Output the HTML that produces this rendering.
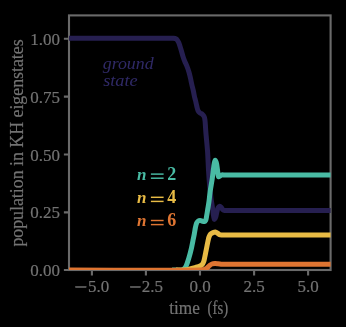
<!DOCTYPE html>
<html><head><meta charset="utf-8"><style>
html,body{margin:0;padding:0;background:#000;}
svg{display:block;will-change:transform;}
text{font-family:"Liberation Serif",serif;}
</style></head><body>
<svg width="346" height="327" viewBox="0 0 346 327">
<rect x="0" y="0" width="346" height="327" fill="#000"/>
<defs><clipPath id="ax"><rect x="69.0" y="15.4" width="261.60" height="254.60"/></clipPath></defs>
<g stroke="#6a6a6a" fill="none" stroke-width="2.1">
<rect x="69.0" y="15.4" width="261.60" height="254.60" stroke-linejoin="miter"/>
<path d="M63.90,38.70H69.00 M63.90,96.60H69.00 M63.90,154.50H69.00 M63.90,212.40H69.00 M63.90,270.00H69.00"/>
<path d="M91.90,270.00V275.60 M145.90,270.00V275.60 M200.00,270.00V275.60 M254.10,270.00V275.60 M308.10,270.00V275.60"/>
</g>
<g clip-path="url(#ax)" fill="none" stroke-width="5.0" stroke-linejoin="round" stroke-linecap="butt">
<path d="M60.00,38.20 C96.83,38.20 160.08,38.20 170.50,38.20 C172.22,38.20 172.57,38.08 173.50,38.20 C174.32,38.31 175.14,38.45 175.80,38.80 C176.43,39.13 176.94,39.62 177.40,40.20 C177.92,40.86 178.31,41.71 178.70,42.60 C179.15,43.62 179.50,44.78 179.90,46.00 C180.36,47.39 180.82,48.89 181.30,50.50 C181.85,52.35 182.39,54.60 183.00,56.50 C183.56,58.25 184.14,59.88 184.80,61.50 C185.44,63.08 186.24,64.44 186.90,66.10 C187.65,67.97 188.40,70.15 189.00,72.20 C189.59,74.22 190.03,76.25 190.50,78.30 C190.97,80.35 191.33,82.45 191.80,84.50 C192.27,86.55 192.85,88.56 193.30,90.60 C193.75,92.63 194.09,94.91 194.50,96.70 C194.83,98.12 195.19,99.26 195.50,100.50 C195.79,101.69 196.02,102.81 196.30,104.00 C196.59,105.24 196.88,106.61 197.20,107.80 C197.49,108.86 197.63,109.93 198.10,110.80 C198.55,111.62 199.20,112.31 199.90,112.90 C200.62,113.51 201.69,113.76 202.40,114.40 C203.12,115.05 203.77,115.86 204.20,116.80 C204.68,117.86 204.80,119.17 205.00,120.50 C205.23,122.03 205.27,123.76 205.40,125.50 C205.54,127.41 205.60,128.91 205.80,131.50 C206.17,136.30 207.14,145.38 207.60,152.00 C208.03,158.19 208.15,164.28 208.50,170.00 C208.82,175.23 209.16,180.18 209.60,185.00 C210.01,189.49 210.45,193.76 211.00,198.00 C211.53,202.09 212.33,206.68 212.80,210.00 C213.13,212.34 213.29,214.29 213.60,216.00 C213.84,217.30 214.00,219.34 214.40,219.40 C214.74,219.45 215.33,218.13 215.70,217.20 C216.24,215.83 216.45,213.48 216.90,211.80 C217.30,210.30 217.58,208.55 218.20,207.60 C218.62,206.96 219.18,206.34 219.70,206.30 C220.19,206.26 220.75,206.76 221.20,207.20 C221.75,207.73 222.05,208.85 222.60,209.40 C223.07,209.87 223.63,210.23 224.20,210.40 C224.76,210.57 225.32,210.44 226.00,210.45 C226.87,210.46 227.28,210.45 229.00,210.45 C239.45,210.45 303.00,210.45 340.00,210.45" stroke="#261f50"/>
<path d="M172.00,270.10 C173.67,270.10 175.55,270.10 177.00,270.10 C178.13,270.10 179.00,270.20 180.00,270.10 C181.00,270.00 182.17,269.90 183.00,269.50 C183.73,269.15 184.27,268.62 184.80,268.00 C185.39,267.31 185.79,266.58 186.30,265.50 C187.12,263.75 188.01,260.91 188.80,258.30 C189.72,255.28 190.69,251.47 191.40,248.40 C192.01,245.76 192.41,243.43 192.90,241.00 C193.38,238.63 193.88,236.28 194.30,234.00 C194.70,231.82 194.97,229.52 195.40,227.60 C195.76,225.99 196.04,224.37 196.60,223.20 C197.04,222.29 197.54,221.42 198.20,221.00 C198.77,220.63 199.52,220.58 200.20,220.60 C200.92,220.62 201.69,221.03 202.40,221.20 C203.05,221.36 203.75,221.76 204.30,221.60 C204.85,221.44 205.33,220.88 205.70,220.20 C206.27,219.14 206.38,217.17 206.70,215.50 C207.06,213.63 207.35,211.60 207.70,209.50 C208.08,207.19 208.53,204.85 208.90,202.20 C209.34,199.04 209.59,195.44 210.10,191.80 C210.67,187.75 211.64,182.86 212.20,179.00 C212.66,175.83 212.93,173.07 213.30,170.30 C213.63,167.76 213.87,164.83 214.30,163.00 C214.56,161.87 214.85,160.32 215.20,160.30 C215.52,160.28 215.98,161.52 216.30,162.50 C216.86,164.23 217.11,167.56 217.50,170.00 C217.87,172.32 217.83,176.43 218.60,176.80 C218.97,176.98 219.49,176.28 220.00,176.00 C220.60,175.67 221.24,175.14 222.00,174.95 C222.88,174.73 223.28,174.95 225.00,174.95 C235.66,174.95 301.67,174.95 340.00,174.95" stroke="#49bba4"/>
<path d="M176.00,270.10 C178.33,270.10 181.16,270.19 183.00,270.10 C184.21,270.04 184.93,269.97 186.00,269.80 C187.24,269.60 188.60,269.24 190.00,268.90 C191.58,268.52 193.34,268.08 195.00,267.60 C196.67,267.12 198.69,266.67 200.00,266.00 C200.96,265.51 201.68,265.04 202.30,264.30 C202.97,263.50 203.39,262.44 203.80,261.30 C204.30,259.91 204.54,258.16 204.90,256.50 C205.28,254.73 205.64,252.79 206.00,251.00 C206.34,249.29 206.67,247.67 207.00,246.00 C207.33,244.33 207.65,242.57 208.00,241.00 C208.32,239.59 208.53,238.21 209.00,237.00 C209.42,235.90 209.88,234.75 210.60,234.00 C211.25,233.33 212.14,232.92 213.00,232.60 C213.87,232.28 214.97,231.93 215.80,232.10 C216.56,232.25 217.17,232.95 217.80,233.40 C218.40,233.82 218.84,234.44 219.50,234.70 C220.22,234.98 221.13,234.91 222.00,234.95 C222.95,235.00 223.28,234.95 225.00,234.95 C235.66,234.95 301.67,234.95 340.00,234.95" stroke="#e8bb45"/>
<path d="M60.00,270.10 C106.33,270.10 187.13,270.69 199.00,270.10 C200.75,270.01 201.05,269.94 202.00,269.80 C202.87,269.67 203.69,269.59 204.50,269.30 C205.36,269.00 206.21,268.57 207.00,268.00 C207.88,267.37 208.63,266.28 209.50,265.60 C210.30,264.97 211.09,264.33 212.00,264.00 C212.92,263.66 214.00,263.63 215.00,263.60 C216.00,263.57 216.93,263.70 218.00,263.80 C219.24,263.92 220.76,264.21 222.00,264.30 C223.07,264.38 223.28,264.34 225.00,264.35 C235.66,264.44 301.67,264.35 340.00,264.35" stroke="#df7532"/>
</g>
<g fill="#737373" font-size="17" stroke="#737373" stroke-width="0.2">
<text x="60.1" y="44.70" text-anchor="end" font-size="17.5" textLength="29.75" lengthAdjust="spacingAndGlyphs">1.00</text>
<text x="60.1" y="102.60" text-anchor="end" font-size="17.5" textLength="29.75" lengthAdjust="spacingAndGlyphs">0.75</text>
<text x="60.1" y="160.50" text-anchor="end" font-size="17.5" textLength="29.75" lengthAdjust="spacingAndGlyphs">0.50</text>
<text x="60.1" y="218.40" text-anchor="end" font-size="17.5" textLength="29.75" lengthAdjust="spacingAndGlyphs">0.25</text>
<text x="60.1" y="276.00" text-anchor="end" font-size="17.5" textLength="29.75" lengthAdjust="spacingAndGlyphs">0.00</text>
<rect x="75.4" y="286.35" width="10.9" height="1.3"/><text x="98.5" y="291.5" text-anchor="middle" font-size="17.5" textLength="21.25" lengthAdjust="spacingAndGlyphs">5.0</text>
<rect x="130.2" y="286.35" width="10.4" height="1.3"/><text x="152.3" y="291.5" text-anchor="middle" font-size="17.5" textLength="21.25" lengthAdjust="spacingAndGlyphs">2.5</text>
<text x="200" y="291.5" text-anchor="middle" font-size="17.5" textLength="21.25" lengthAdjust="spacingAndGlyphs">0.0</text>
<text x="254" y="291.5" text-anchor="middle" font-size="17.5" textLength="21.25" lengthAdjust="spacingAndGlyphs">2.5</text>
<text x="308.2" y="291.5" text-anchor="middle" font-size="17.5" textLength="21.25" lengthAdjust="spacingAndGlyphs">5.0</text>
<text x="169.2" y="313.6" font-size="18" textLength="30.6" lengthAdjust="spacingAndGlyphs">time</text><text x="207.6" y="313.6" font-size="18" textLength="20.6" lengthAdjust="spacingAndGlyphs">(fs)</text>
<text transform="translate(22.9,143) rotate(-90)" text-anchor="middle" font-size="18" textLength="207.2" lengthAdjust="spacingAndGlyphs">population in KH eigenstates</text>
</g>
<g font-size="17" font-style="italic" fill="#2f2966">
<text x="102.7" y="69.4" textLength="51" lengthAdjust="spacingAndGlyphs">ground</text>
<text x="103.2" y="85.8" textLength="34.5" lengthAdjust="spacingAndGlyphs">state</text>
</g>
<g font-size="17" font-weight="bold">
<g fill="#49bba4"><text x="137" y="179.8" font-style="italic">n</text><rect x="150.9" y="173.38" width="12.7" height="1.45"/><rect x="150.9" y="177.48" width="12.7" height="1.45"/><text x="167.3" y="179.8" font-size="18">2</text></g>
<g fill="#e8bb45"><text x="137" y="203.0" font-style="italic">n</text><rect x="150.9" y="196.58" width="12.7" height="1.45"/><rect x="150.9" y="200.68" width="12.7" height="1.45"/><text x="167.3" y="203.0" font-size="18">4</text></g>
<g fill="#df7532"><text x="137" y="226.2" font-style="italic">n</text><rect x="150.9" y="219.78" width="12.7" height="1.45"/><rect x="150.9" y="223.88" width="12.7" height="1.45"/><text x="167.3" y="226.2" font-size="18">6</text></g>
</g>
</svg>
</body></html>
